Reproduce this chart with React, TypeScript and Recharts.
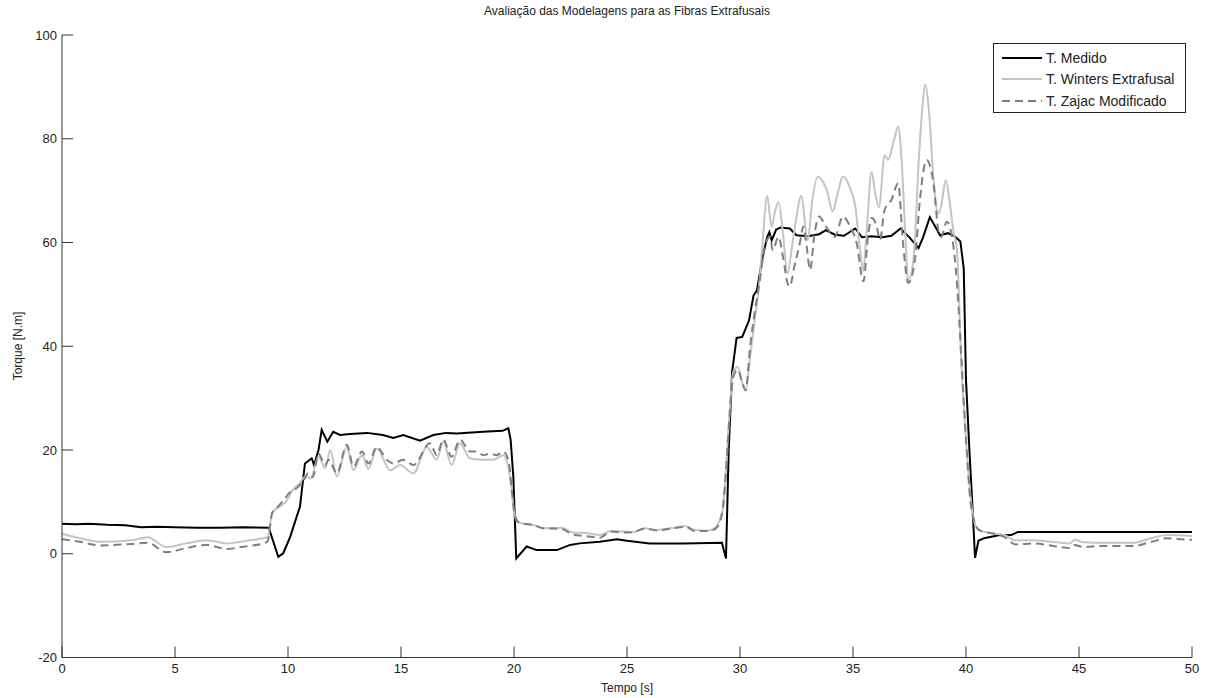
import { LineChart, Line, XAxis, YAxis } from 'recharts'

// [tempo (s), torque (N.m)]
const medido: [number, number][] = [
  [0, 5.8], [0.6, 5.7], [1.2, 5.8], [2, 5.6], [2.8, 5.5], [3.5, 5.1], [4.2, 5.2], [5, 5.1], [6, 5.0], [7, 5.0], [8, 5.1], [9.15, 5.0],
  [9.3, 3.0], [9.57, -0.6], [9.79, 0.1], [10.1, 3.3], [10.53, 9.1], [10.75, 17.4], [11.05, 18.4], [11.15, 17.1],
  [11.35, 20], [11.49, 23.9], [11.74, 21.6], [12.0, 23.5], [12.3, 22.9], [12.74, 23.1], [13.5, 23.3], [14.2, 22.9],
  [14.66, 22.3], [15.1, 22.9], [15.84, 21.8], [16.43, 22.9], [17.0, 23.3], [17.47, 23.2], [18.64, 23.5], [19.5, 23.7],
  [19.75, 24.2], [19.85, 22], [19.97, 14.9], [20.1, -0.9], [20.56, 1.4], [21.0, 0.7], [21.9, 0.7], [22.48, 1.7],
  [22.9, 2.0], [23.8, 2.3], [24.55, 2.8], [25.0, 2.5], [26.0, 2.0], [27.5, 2.0], [29.2, 2.1], [29.38, -0.9],
  [29.5, 20], [29.65, 35], [29.85, 41.6], [30.1, 41.8], [30.4, 45], [30.6, 49.8], [30.75, 50.8], [31.0, 57.2],
  [31.2, 61], [31.3, 62], [31.4, 60.4], [31.6, 62.5], [31.8, 62.9], [32.2, 62.7], [32.5, 61.4], [33.0, 61.2],
  [33.5, 61.6], [33.8, 62.4], [34.2, 61.5], [34.6, 61.3], [35.1, 62.7], [35.4, 61.0], [35.8, 61.2], [36.3, 61.0],
  [36.7, 61.3], [37.1, 62.7], [37.5, 61], [37.9, 58.9], [38.1, 61], [38.4, 64.9], [38.65, 63], [38.85, 61.4],
  [39.2, 61.8], [39.5, 61.2], [39.75, 60.2], [39.9, 55], [40.0, 33.5], [40.15, 20], [40.3, 8], [40.4, -0.8],
  [40.55, 2.5], [40.8, 3.0], [41.5, 3.6], [42.0, 3.6], [42.3, 4.2], [46, 4.2], [50, 4.2],
]

const winters: [number, number][] = [
  [0, 3.8], [0.8, 3.0], [1.7, 2.3], [3.1, 2.6], [3.8, 3.2], [4.6, 1.3], [5.5, 2.0], [6.4, 2.6], [7.3, 2.0], [7.9, 2.3],
  [8.9, 3.0], [9.1, 3.2], [9.3, 7.8], [9.6, 9.0], [9.9, 10.0], [10.2, 12.2], [10.5, 13.5], [10.8, 15.0], [11.0, 14.5],
  [11.35, 18.7], [11.65, 16.5], [11.87, 20.0], [12.16, 14.9], [12.6, 20.6], [12.9, 16.1], [13.27, 19.0], [13.56, 16.4],
  [13.93, 20.3], [14.52, 16.1], [14.96, 17.1], [15.55, 15.5], [16.14, 20.6], [16.58, 18.1], [16.87, 21.6], [17.24, 17.1],
  [17.61, 21.3], [18.05, 18.4], [18.64, 18.1], [19.08, 18.1], [19.52, 19.0], [19.75, 16.8], [19.9, 12], [20.0, 8],
  [20.15, 6.2], [20.3, 5.9], [20.9, 5.5], [21.3, 4.9], [22.1, 5.0], [22.6, 4.1], [23.2, 4.0], [23.8, 3.6], [24.3, 4.4],
  [24.8, 4.3], [25.3, 4.2], [25.8, 4.9], [26.3, 4.6], [26.9, 4.9], [27.6, 5.3], [28.0, 4.6], [28.6, 4.5], [28.9, 5.0],
  [29.1, 6.5], [29.25, 9], [29.4, 18], [29.55, 28], [29.7, 35], [29.9, 36], [30.1, 33], [30.25, 31.5], [30.45, 38],
  [30.65, 45], [30.85, 52], [31.0, 60], [31.2, 69], [31.4, 63], [31.55, 66], [31.7, 67.8], [31.9, 61.8], [32.1, 54],
  [32.3, 59.2], [32.5, 65], [32.7, 69], [33.0, 60.5], [33.2, 68.2], [33.45, 72.7], [33.7, 71.4], [33.85, 70], [34.1, 66],
  [34.3, 69], [34.55, 72.7], [34.87, 70.5], [35.1, 67], [35.3, 59], [35.45, 54.5], [35.6, 62], [35.82, 73.6], [36.0, 69],
  [36.15, 66.8], [36.4, 76.8], [36.55, 75.9], [36.8, 79.5], [37.0, 82.3], [37.15, 76], [37.3, 63], [37.45, 52.5],
  [37.7, 58], [37.9, 75], [38.05, 85], [38.2, 90.4], [38.35, 86], [38.55, 73], [38.76, 65.6], [38.9, 67], [39.1, 72],
  [39.3, 67], [39.45, 62], [39.6, 58.5], [39.8, 36], [40.0, 22], [40.2, 11], [40.35, 6.5], [40.5, 4.9], [40.7, 4.4],
  [41.2, 3.9], [41.7, 3.6], [42.2, 2.6], [43.0, 2.6], [44.0, 2.2], [44.6, 2.0], [44.8, 2.7], [45.2, 2.2], [46, 2.1],
  [47.4, 2.1], [48.2, 3.0], [48.9, 3.6], [50, 3.4],
]

const zajac: [number, number][] = [
  [0, 2.8], [0.8, 2.3], [1.7, 1.6], [3.1, 1.9], [3.8, 2.1], [4.6, 0.3], [5.5, 1.1], [6.4, 1.7], [7.3, 0.9], [7.9, 1.3],
  [8.9, 2.0], [9.1, 2.4], [9.3, 7.9], [9.5, 8.8], [9.8, 10.3], [10.1, 11.9], [10.4, 12.7], [10.7, 14.2], [10.9, 15.6],
  [11.1, 14.8], [11.35, 19.3], [11.65, 17.1], [11.8, 18.1], [12.16, 15.5], [12.6, 21.0], [12.9, 16.8], [13.27, 19.7],
  [13.56, 17.4], [13.93, 20.6], [14.37, 18.1], [14.66, 17.4], [15.1, 18.1], [15.55, 17.1], [16.28, 21.3], [16.58, 19.0],
  [16.87, 22.0], [17.24, 18.7], [17.61, 22.0], [18.05, 19.7], [18.35, 19.7], [18.64, 19.0], [18.94, 19.3], [19.23, 19.0],
  [19.52, 19.7], [19.75, 18.1], [19.9, 12.5], [20.0, 8.5], [20.15, 6.3], [20.3, 5.9], [20.9, 5.5], [21.3, 4.9],
  [22.1, 4.8], [22.6, 3.7], [23.2, 3.4], [23.8, 3.1], [24.3, 4.3], [24.8, 4.1], [25.3, 4.2], [25.8, 4.9], [26.3, 4.5],
  [26.9, 4.8], [27.6, 5.2], [28.0, 4.4], [28.6, 4.4], [28.9, 4.8], [29.1, 6.0], [29.25, 9], [29.4, 17], [29.55, 27],
  [29.7, 34], [29.9, 35.5], [30.1, 33], [30.25, 31.5], [30.45, 40], [30.65, 46.5], [30.88, 52.8], [31.1, 59.2],
  [31.33, 61.1], [31.45, 58.5], [31.7, 61.1], [31.9, 57.3], [32.1, 52.2], [32.2, 51.5], [32.4, 55.3], [32.65, 59.9],
  [32.8, 63.1], [32.95, 59.2], [33.1, 54.7], [33.3, 61.8], [33.5, 65], [33.8, 63.1], [34.2, 61.1], [34.55, 65],
  [34.87, 63.1], [35.16, 59.9], [35.46, 52.5], [35.68, 61.8], [35.83, 64.7], [36.05, 63.1], [36.19, 60.5], [36.4, 66.3],
  [36.7, 68.2], [37.0, 71.4], [37.2, 60.5], [37.45, 52.2], [37.75, 57], [37.96, 68.2], [38.26, 75.9], [38.56, 71.4],
  [38.8, 61.8], [38.9, 61.1], [39.15, 64], [39.38, 61.1], [39.6, 52.2], [39.8, 37.3], [40.0, 22], [40.2, 10],
  [40.35, 6.5], [40.5, 4.9], [40.7, 4.3], [41.2, 3.9], [41.7, 3.2], [42.2, 1.8], [43.0, 2.0], [44.0, 1.4], [44.6, 1.1],
  [44.8, 1.7], [45.2, 1.3], [46, 1.5], [47.4, 1.5], [48.2, 2.3], [48.9, 3.0], [49.5, 2.8], [50, 2.7],
]

const xTicks = [0, 5, 10, 15, 20, 25, 30, 35, 40, 45, 50]
const yTicks = [-20, 0, 20, 40, 60, 80, 100]

const series = [
  { name: 'T. Medido', points: medido, color: '#000000', dash: undefined, curve: 'linear' as const },
  { name: 'T. Winters Extrafusal', points: winters, color: '#c4c4c4', dash: undefined, curve: 'monotone' as const },
  { name: 'T. Zajac Modificado', points: zajac, color: '#7f7f7f', dash: '8 5', curve: 'monotone' as const },
]

const font = '"Liberation Sans", Arial, sans-serif'
const tickStyle = { fill: '#222', fontSize: 13, fontFamily: font }

export default function App() {
  return (
    <div style={{ position: 'absolute', left: 0, top: 0, width: 1206, height: 698, background: '#fff', fontFamily: font }}>
      <LineChart width={1206} height={698} margin={{ top: 35, right: 14, bottom: 0, left: 2 }}>
        <XAxis
          type="number"
          dataKey="t"
          domain={[0, 50]}
          ticks={xTicks}
          interval={0}
          allowDuplicatedCategory={false}
          height={40.5}
          stroke="#333"
          tickSize={-11}
          tickMargin={17}
          tick={tickStyle}
        />
        <YAxis
          type="number"
          dataKey="v"
          domain={[-20, 100]}
          ticks={yTicks}
          interval={0}
          width={60}
          stroke="#333"
          tickSize={-11}
          tickMargin={16}
          tick={tickStyle}
        />
        {series.map(s => (
          <Line
            key={s.name}
            data={s.points.map(([t, v]) => ({ t, v }))}
            dataKey="v"
            type={s.curve}
            stroke={s.color}
            strokeWidth={2}
            strokeDasharray={s.dash}
            dot={false}
            activeDot={false}
            isAnimationActive={false}
          />
        ))}
      </LineChart>

      <div style={{ position: 'absolute', left: 0, width: 1254, top: 4, textAlign: 'center', fontSize: 12, color: '#222' }}>
        Avaliação das Modelagens para as Fibras Extrafusais
      </div>
      <div style={{ position: 'absolute', left: 0, width: 1254, top: 681, textAlign: 'center', fontSize: 12, color: '#222' }}>
        Tempo [s]
      </div>
      <div
        style={{
          position: 'absolute',
          left: 18,
          top: 346,
          transform: 'translate(-50%, -50%) rotate(-90deg)',
          whiteSpace: 'nowrap',
          fontSize: 12,
          color: '#222',
        }}
      >
        Torque [N.m]
      </div>

      {/* Legend */}
      <div
        style={{
          position: 'absolute',
          left: 993,
          top: 43,
          width: 193,
          height: 70,
          border: '1px solid #222',
          background: '#fff',
          paddingTop: 3,
          boxSizing: 'border-box',
        }}
      >
        {series.map(s => (
          <div key={s.name} style={{ display: 'flex', alignItems: 'center', height: 21.5, fontSize: 14, color: '#222' }}>
            <svg width={52} height={6} style={{ marginLeft: 6 }}>
              <line x1={2} y1={3} x2={42} y2={3} stroke={s.color} strokeWidth={2} strokeDasharray={s.dash} />
            </svg>
            <span style={{ marginLeft: -6 }}>{s.name}</span>
          </div>
        ))}
      </div>
    </div>
  )
}
